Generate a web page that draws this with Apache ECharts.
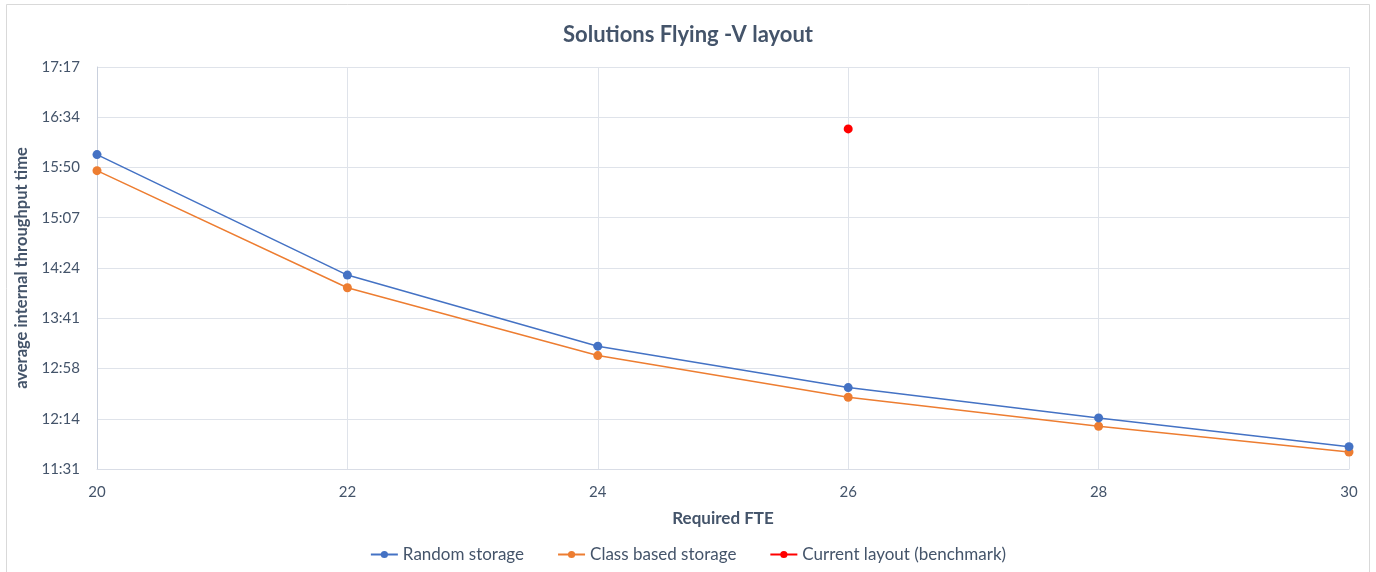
<!DOCTYPE html>
<html>
<head>
<meta charset="utf-8">
<title>Solutions Flying -V layout</title>
<script src="https://cdn.jsdelivr.net/npm/echarts@6/dist/echarts.min.js"></script>
<style>
  html, body { margin: 0; padding: 0; background: #ffffff; }
  #chart { width: 1376px; height: 572px; }
</style>
</head>
<body>
<div id="chart"></div>
<script>
// Required FTE on the x axis
const fte = [20, 22, 24, 26, 28, 30];
// Average internal throughput time, in minutes after midnight
const randomStorage = [961.5, 857.9, 796.8, 761.2, 735.1, 710.4];
const classBasedStorage = [947.7, 847.0, 788.7, 752.9, 728.0, 705.8];
// Current layout benchmark: [FTE, minutes]
const benchmark = [[26, 983.6]];

const seriesNames = ['Random storage', 'Class based storage', 'Current layout (benchmark)'];

// Time axis: 0.48 .. 0.72 of a day in steps of 0.03 day (43.2 min)
const yMin = 691.2, yMax = 1036.8, yStep = 43.2;

function hhmm(v) {
  const m = Math.round(v);
  const h = Math.floor(m / 60);
  const mm = m % 60;
  return h + ':' + (mm < 10 ? '0' : '') + mm;
}

const font = 'Lato, "Open Sans", "Liberation Sans", sans-serif';
const ink = '#44546a';
const chart = echarts.init(document.getElementById('chart'), null, { renderer: 'canvas' });

chart.setOption({
  backgroundColor: '#ffffff',
  animation: false,
  textStyle: { fontFamily: font },
  graphic: [{
    type: 'rect',
    shape: { x: 6.5, y: 4.5, width: 1363, height: 570 },
    style: { fill: 'none', stroke: '#d9d9d9', lineWidth: 1 },
    silent: true
  }],
  title: {
    text: 'Solutions Flying -V layout',
    left: 'center',
    top: 19,
    textStyle: { fontFamily: font, fontSize: 22, fontWeight: 'bold', color: ink }
  },
  grid: { left: 97, right: 27, top: 67, bottom: 103, containLabel: false },
  legend: {
    top: 541,
    left: 'center',
    itemGap: 33,
    itemWidth: 27,
    itemHeight: 9,
    textStyle: { fontFamily: font, fontSize: 17, color: ink },
    data: seriesNames
  },
  xAxis: {
    type: 'value',
    min: 20,
    max: 30,
    interval: 2,
    name: 'Required FTE',
    nameLocation: 'middle',
    nameGap: 41,
    nameTextStyle: { fontFamily: font, fontSize: 17, fontWeight: 'bold', color: ink },
    axisLine: { show: true, lineStyle: { color: '#d9dde6' } },
    axisTick: { show: false },
    axisLabel: { fontFamily: font, fontSize: 15, color: ink, margin: 16 },
    splitLine: { show: true, lineStyle: { color: '#dfe3ea' } }
  },
  yAxis: {
    type: 'value',
    min: yMin,
    max: yMax,
    interval: yStep,
    name: 'average internal throughput time',
    nameLocation: 'middle',
    nameGap: 62,
    nameTextStyle: { fontFamily: font, fontSize: 16.5, fontWeight: 'bold', color: ink },
    axisLine: { show: true, lineStyle: { color: '#c9d0dd' } },
    axisTick: { show: false },
    axisLabel: { fontFamily: font, fontSize: 15, color: ink, margin: 17, formatter: hhmm },
    splitLine: { show: true, lineStyle: { color: '#dfe3ea' } }
  },
  series: [
    {
      name: seriesNames[0],
      type: 'line',
      data: fte.map((x, i) => [x, randomStorage[i]]),
      color: '#4472c4',
      symbol: 'circle',
      symbolSize: 9,
      lineStyle: { width: 1.5 },
      z: 3
    },
    {
      name: seriesNames[1],
      type: 'line',
      data: fte.map((x, i) => [x, classBasedStorage[i]]),
      color: '#ed7d31',
      symbol: 'circle',
      symbolSize: 9,
      lineStyle: { width: 1.5 },
      z: 2
    },
    {
      name: seriesNames[2],
      type: 'line',
      data: benchmark,
      color: '#ff0000',
      symbol: 'circle',
      symbolSize: 9,
      lineStyle: { width: 1.5 },
      z: 4
    }
  ]
});
</script>
</body>
</html>
